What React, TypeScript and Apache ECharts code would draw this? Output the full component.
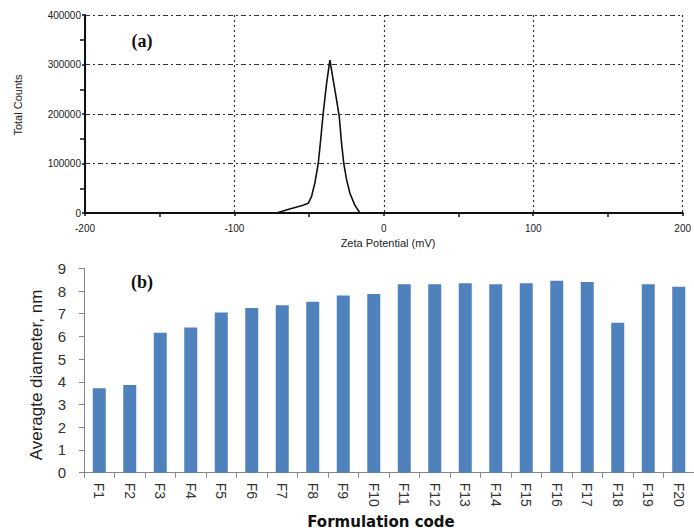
import React, { useEffect, useRef } from "react";
import * as echarts from "echarts";

// Panel (a): zeta potential distribution
const zetaMv = [-150, -72, -63, -54, -50.6, -48.4, -46.2, -43.9, -42.3, -40.6, -38.3, -36.1, -33.9, -31.6, -29.8, -28.3, -26.8, -24.9, -22.7, -19.4, -16, 150];
const totalCounts = [0, 0, 8000, 15500, 19600, 33000, 60000, 100000, 147000, 201000, 262000, 309000, 269000, 228000, 194000, 141000, 100000, 67000, 40000, 16000, 0, 0];

// Panel (b): average diameter per formulation
const formulations = ["F1", "F2", "F3", "F4", "F5", "F6", "F7", "F8", "F9", "F10", "F11", "F12", "F13", "F14", "F15", "F16", "F17", "F18", "F19", "F20"];
const avgDiameter = [3.72, 3.86, 6.16, 6.39, 7.05, 7.25, 7.37, 7.53, 7.8, 7.87, 8.3, 8.3, 8.34, 8.3, 8.34, 8.45, 8.4, 6.6, 8.3, 8.19];

export default function App() {
  const ref = useRef<HTMLDivElement>(null);
  useEffect(() => {
    if (!ref.current) return;
    const chart = echarts.init(ref.current, undefined, { renderer: "svg" });
    const smallFont = { fontFamily: "Liberation Sans", fontSize: 10, color: "#222" };
    chart.setOption({
      animation: false,
      backgroundColor: "#fff",
      grid: [
        { left: 85, top: 15, width: 598, height: 198 },
        { left: 84, top: 268.3, width: 614, height: 204.4 },
      ],
      xAxis: [
        {
          gridIndex: 0,
          type: "value",
          min: -200,
          max: 200,
          interval: 100,
          axisLine: { show: true, onZero: false, lineStyle: { color: "#111", width: 2 } },
          axisTick: { show: true, length: 3, lineStyle: { color: "#111", width: 1.5 } },
          minorTick: { show: true, splitNumber: 2, length: 4, lineStyle: { color: "#111", width: 1.5 } },
          axisLabel: { ...smallFont, margin: 10 },
          splitLine: { show: true, lineStyle: { color: "#333", type: [2, 3], width: 1.2 } },
        },
        {
          gridIndex: 1,
          type: "category",
          data: formulations,
          boundaryGap: true,
          axisLine: { show: true, lineStyle: { color: "#888", width: 1 } },
          axisTick: { show: true, length: 5, alignWithLabel: false, lineStyle: { color: "#888" } },
          axisLabel: { rotate: -90, fontFamily: "Liberation Sans", fontSize: 14, color: "#333", margin: 10, interval: 0 },
          splitLine: { show: false },
        },
      ],
      yAxis: [
        {
          gridIndex: 0,
          type: "value",
          min: 0,
          max: 400000,
          interval: 100000,
          axisLine: { show: true, onZero: false, lineStyle: { color: "#111", width: 2 } },
          axisTick: { show: true, length: 3, lineStyle: { color: "#111", width: 1.5 } },
          minorTick: { show: true, splitNumber: 2, length: 5, lineStyle: { color: "#111", width: 1.5 } },
          axisLabel: { ...smallFont, margin: 4, formatter: (v: number) => String(v) },
          splitLine: { show: true, lineStyle: { color: "#333", type: [5, 3, 2, 3], width: 1.2 } },
        },
        {
          gridIndex: 1,
          type: "value",
          min: 0,
          max: 9,
          interval: 1,
          axisLine: { show: true, onZero: false, lineStyle: { color: "#888", width: 1 } },
          axisTick: { show: true, length: 5, lineStyle: { color: "#888" } },
          axisLabel: { fontFamily: "Liberation Sans", fontSize: 15, color: "#333", margin: 18 },
          splitLine: { show: false },
        },
      ],
      series: [
        {
          type: "line",
          xAxisIndex: 0,
          yAxisIndex: 0,
          data: zetaMv.map((x, i) => [x, totalCounts[i]]),
          symbol: "none",
          lineStyle: { color: "#111", width: 1.6 },
        },
        {
          type: "bar",
          xAxisIndex: 1,
          yAxisIndex: 1,
          data: avgDiameter,
          barWidth: 13,
          itemStyle: { color: "#4F81BD" },
        },
      ],
      graphic: [
        {
          type: "text",
          x: 18,
          y: 105,
          rotation: Math.PI / 2,
          style: { text: "Total Counts", fontFamily: "Liberation Sans", fontSize: 11, fill: "#222", align: "center", verticalAlign: "middle" },
        },
        {
          type: "text",
          x: 388,
          y: 243,
          style: { text: "Zeta Potential (mV)", fontFamily: "Liberation Sans", fontSize: 11, fill: "#222", align: "center", verticalAlign: "middle" },
        },
        {
          type: "text",
          x: 142,
          y: 41,
          style: { text: "(a)", fontFamily: "Liberation Serif", fontWeight: "bold", fontSize: 18, fill: "#111", align: "center", verticalAlign: "middle" },
        },
        {
          type: "text",
          x: 142,
          y: 282,
          style: { text: "(b)", fontFamily: "Liberation Serif", fontWeight: "bold", fontSize: 18, fill: "#111", align: "center", verticalAlign: "middle" },
        },
        {
          type: "text",
          x: 36,
          y: 375,
          rotation: Math.PI / 2,
          style: { text: "Averagte diameter, nm", fontFamily: "Liberation Sans", fontSize: 17, fill: "#222", align: "center", verticalAlign: "middle" },
        },
        {
          type: "text",
          x: 381,
          y: 522,
          style: { text: "Formulation code", fontFamily: "DejaVu Sans", fontWeight: "bold", fontSize: 15, fill: "#111", align: "center", verticalAlign: "middle" },
        },
      ],
    });
    return () => chart.dispose();
  }, []);
  return <div ref={ref} style={{ position: "absolute", left: 0, top: 0, width: 694, height: 531 }} />;
}
